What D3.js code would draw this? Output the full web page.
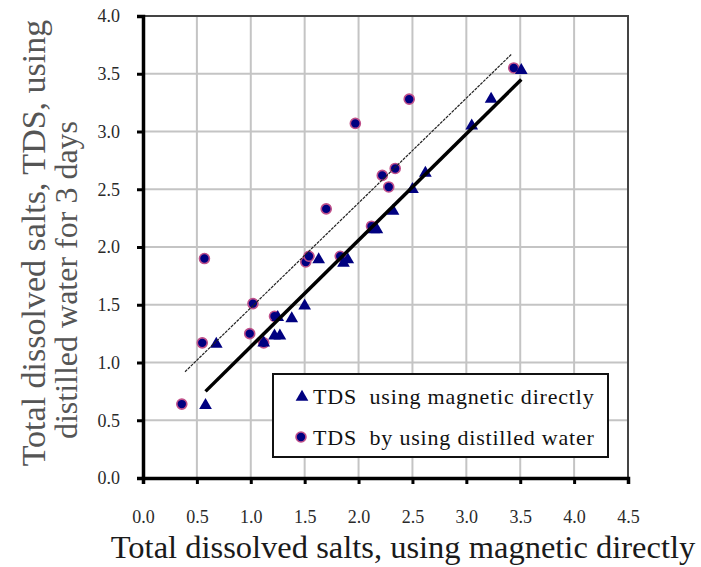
<!DOCTYPE html>
<html>
<head>
<meta charset="UTF-8">
<title>TDS magnetic vs distilled</title>
<style>
  body { margin: 0; background: #fff; }
</style>
</head>
<body>
<div id="chart"></div>
<script src="https://d3js.org/d3.v7.min.js"></script>
<script>
// data
var xTicks = [0, 0.5, 1.0, 1.5, 2.0, 2.5, 3.0, 3.5, 4.0, 4.5];
var yTicks = [0, 0.5, 1.0, 1.5, 2.0, 2.5, 3.0, 3.5, 4.0];

// TDS using magnetic directly (x, y)
var magnetic = [
  [0.58, 0.63], [0.68, 1.16], [1.12, 1.17], [1.22, 1.23], [1.27, 1.23],
  [1.25, 1.39], [1.38, 1.38], [1.50, 1.49], [1.63, 1.89], [1.86, 1.86],
  [1.90, 1.89], [2.14, 2.15], [2.17, 2.15], [2.32, 2.31], [2.50, 2.50],
  [2.62, 2.64], [3.05, 3.05], [3.23, 3.28], [3.51, 3.53]
];

// TDS by using distilled water (x, y)
var distilled = [
  [0.36, 0.64], [0.55, 1.17], [0.57, 1.90], [0.99, 1.25], [1.02, 1.51],
  [1.12, 1.17], [1.22, 1.40], [1.51, 1.87], [1.54, 1.92], [1.70, 2.33],
  [1.83, 1.92], [1.97, 3.07], [2.12, 2.18], [2.22, 2.62], [2.28, 2.52],
  [2.34, 2.68], [2.47, 3.28], [3.44, 3.55]
];

// trend lines, end points
var trendMagnetic = [[0.58, 0.75], [3.51, 3.45]];
var trendDistilled = [[0.39, 0.92], [3.42, 3.67]];

var legendLabels = ["TDS  using magnetic directly", "TDS  by using distilled water"];

var width = 701, height = 567;
var plotL = 143, plotR = 628, plotT = 16, plotB = 478;
var serif = "'Liberation Serif', 'Times New Roman', serif";

var svg = d3.select("#chart").append("svg")
  .attr("width", width)
  .attr("height", height);

var x = d3.scaleLinear().domain([0, 4.5]).range([plotL, plotR]);
var y = d3.scaleLinear().domain([0, 4]).range([plotB, plotT]);

// grid
var grid = svg.append("g");
grid.selectAll("line.v")
  .data(xTicks.slice(1))
  .enter().append("line")
  .attr("class", "v")
  .attr("x1", function (d) { return x(d); })
  .attr("x2", function (d) { return x(d); })
  .attr("y1", plotT).attr("y2", plotB)
  .style("stroke", "#c4c4c4").style("stroke-width", 2);
grid.selectAll("line.h")
  .data(yTicks.slice(1))
  .enter().append("line")
  .attr("class", "h")
  .attr("y1", function (d) { return y(d); })
  .attr("y2", function (d) { return y(d); })
  .attr("x1", plotL).attr("x2", plotR)
  .style("stroke", "#c4c4c4").style("stroke-width", 2);

// frame top / right
svg.append("path")
  .attr("d", "M" + plotL + "," + plotT + "H" + plotR + "V" + plotB)
  .style("fill", "none").style("stroke", "#444").style("stroke-width", 2);

// axes
var xAxis = d3.axisBottom(x).tickValues(xTicks).tickSize(6).tickPadding(26)
  .tickFormat(d3.format(".1f"));
var yAxis = d3.axisLeft(y).tickValues(yTicks).tickSize(6).tickPadding(17)
  .tickFormat(d3.format(".1f"));

var gx = svg.append("g").attr("transform", "translate(0," + plotB + ")").call(xAxis);
var gy = svg.append("g").attr("transform", "translate(" + plotL + ",0)").call(yAxis);

[gx, gy].forEach(function (g) {
  g.select(".domain").style("stroke", "#000").style("stroke-width", 3.5);
  g.selectAll(".tick line").style("stroke", "#000").style("stroke-width", 3);
  g.selectAll(".tick text")
    .style("font-family", serif)
    .style("font-size", "18px")
    .style("fill", "#2a2a2a");
});

// markers
var pts = svg.append("g");
pts.selectAll("circle")
  .data(distilled)
  .enter().append("circle")
  .attr("cx", function (d) { return x(d[0]); })
  .attr("cy", function (d) { return y(d[1]); })
  .attr("r", 5)
  .style("fill", "#000080")
  .style("stroke", "#c0508a")
  .style("stroke-width", 1.6);

var tri = d3.symbol().type(d3.symbolTriangle).size(70);
pts.selectAll("path")
  .data(magnetic)
  .enter().append("path")
  .attr("d", tri)
  .attr("transform", function (d) { return "translate(" + x(d[0]) + "," + y(d[1]) + ")"; })
  .style("fill", "#000080");

// trend lines
var line = d3.line()
  .x(function (d) { return x(d[0]); })
  .y(function (d) { return y(d[1]); });

svg.append("path")
  .datum(trendDistilled)
  .attr("d", line)
  .style("fill", "none").style("stroke", "#222").style("stroke-width", 1.2)
  .style("stroke-dasharray", "3,1");

svg.append("path")
  .datum(trendMagnetic)
  .attr("d", line)
  .style("fill", "none").style("stroke", "#000").style("stroke-width", 3.5);

// legend
var lg = svg.append("g");
lg.append("rect")
  .attr("x", 273).attr("y", 374)
  .attr("width", 335).attr("height", 83)
  .style("fill", "#fff").style("stroke", "#111").style("stroke-width", 2);

lg.append("path")
  .attr("d", tri)
  .attr("transform", "translate(302,397)")
  .style("fill", "#000080");
lg.append("circle")
  .attr("cx", 301).attr("cy", 437).attr("r", 5)
  .style("fill", "#000080").style("stroke", "#c0508a").style("stroke-width", 1.6);

lg.selectAll("text")
  .data(legendLabels)
  .enter().append("text")
  .attr("x", 313)
  .attr("y", function (d, i) { return 404 + i * 41; })
  .attr("xml:space", "preserve")
  .style("font-family", serif)
  .style("font-size", "22px")
  .style("letter-spacing", "0.8px")
  .style("fill", "#111")
  .text(function (d) { return d; });

// axis titles
svg.append("text")
  .attr("x", 403).attr("y", 558)
  .attr("text-anchor", "middle")
  .style("font-family", serif)
  .style("font-size", "32.5px")
  .style("fill", "#1a1a1a")
  .text("Total dissolved salts, using magnetic directly");

svg.append("text")
  .attr("transform", "translate(45,243) rotate(-90)")
  .attr("text-anchor", "middle")
  .style("font-family", serif)
  .style("font-size", "34px")
  .style("fill", "#555")
  .text("Total dissolved salts, TDS, using");

svg.append("text")
  .attr("transform", "translate(77,280) rotate(-90)")
  .attr("text-anchor", "middle")
  .style("font-family", serif)
  .style("font-size", "32px")
  .style("fill", "#555")
  .text("distilled water for 3 days");
</script>
</body>
</html>
